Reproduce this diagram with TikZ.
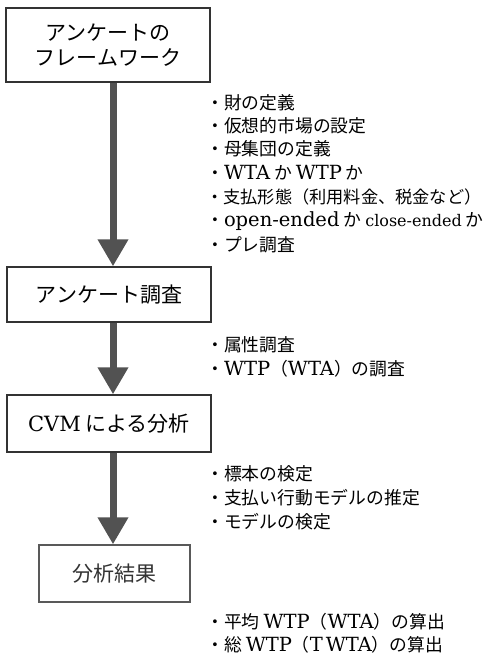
\documentclass[tikz,border=0pt]{standalone}
\usepackage{fontspec}
\setmainfont{Noto Sans CJK JP}
\newfontfamily\lat{DejaVu Serif}
\newcommand{\lt}[1]{{\lat\fontsize{19.5}{20}\selectfont #1}}
\usetikzlibrary{arrows.meta}
\begin{document}
\begin{tikzpicture}[x=1pt,y=1pt,
  boxframe/.style={draw=black!80, line width=1.3pt, inner sep=0pt, align=center,
    font=\fontsize{21}{25}\selectfont},
  flowarrow/.style={draw=black!68, line width=7pt, -{Triangle[width=29pt,length=27pt]}},
  item/.style={anchor=west, inner sep=0pt, font=\fontsize{17.8}{20}\selectfont},
]
\useasboundingbox (0,0) rectangle (489,-658);
\coordinate (ax) at (113,0);
% boxes
\node[boxframe, minimum width=204pt, minimum height=74pt] (b1) at (108,-45) {アンケートの\\フレームワーク};
\node[boxframe, minimum width=204pt, minimum height=55pt] (b2) at (109,-294.5) {アンケート調査};
\node[boxframe, minimum width=204pt, minimum height=57pt] (b3) at (109,-423.5) {{\lat CVM} による分析};
\node[boxframe, draw=black!65, text=black!80, minimum width=151pt, minimum height=57pt] (b4) at (114.5,-573.5) {分析結果};
% arrows
\draw[flowarrow] (b1.south -| ax) -- (b2.north -| ax);
\draw[flowarrow] (b2.south -| ax) -- (b3.north -| ax);
\draw[flowarrow] (b3.south -| ax) -- (b4.north -| ax);
% list 1
\node[item] (i11) at (206,-103) {・財の定義};
\node[item] (i12) at (206,-126) {・仮想的市場の設定};
\node[item] (i13) at (206,-149) {・母集団の定義};
\node[item] (i14) at (206,-173) {・\lt{WTA} か \lt{WTP} か};
\node[item, font=\fontsize{17.2}{20}\selectfont] (i15) at (206,-197) {・支払形態（利用料金、税金など）};
\node[item] (i16) at (206,-221) {・\lt{open-ended} か {\lat\fontsize{16}{18}\selectfont close-ended} か};
\node[item] (i17) at (206,-245) {・プレ調査};
% list 2
\node[item] (i21) at (206,-345) {・属性調査};
\node[item] (i22) at (206,-369) {・\lt{WTP}（\lt{WTA}）の調査};
% list 3
\node[item] (i31) at (206,-474) {・標本の検定};
\node[item] (i32) at (206,-498) {・支払い行動モデルの推定};
\node[item] (i33) at (206,-522) {・モデルの検定};
% list 4
\node[item] (i41) at (206,-622) {・平均 \lt{WTP}（\lt{WTA}）の算出};
\node[item] (i42) at (206,-645) {・総 \lt{WTP}（\lt{T\hspace{3pt}WTA}）の算出};
\end{tikzpicture}
\end{document}
